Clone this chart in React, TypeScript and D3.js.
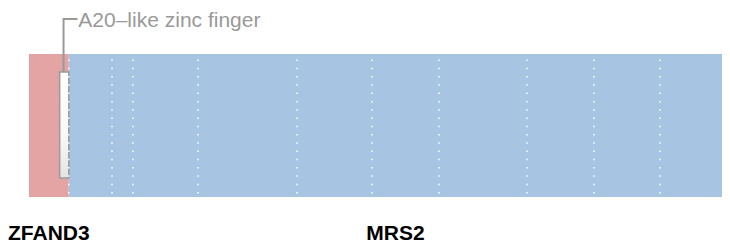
import React from "react";
import * as d3 from "d3";

const TOTAL_LEN = 470;
const segNames = ["ZFAND3", "MRS2"];
const segStarts = [0, 27];
const segEnds = [27, 470];
const segColors = ["#e5a4a4", "#a8c4e3"];
const exonBoundaries = [27, 56.3, 70.5, 114.6, 181.8, 232.6, 278.1, 337.7, 383.2, 428];
const domainNames = ["A20\u2013like zinc finger"];
const domainStarts = [20.8];
const domainEnds = [27];

const W = 730;
const H = 247;

export default function App() {
  const x = d3.scaleLinear().domain([0, TOTAL_LEN]).range([29, 722]);
  const barTop = 54;
  const barBottom = 197;
  const boxTop = 72;
  const boxBottom = 178;
  return (
    <svg
      width={W}
      height={H}
      style={{ position: "absolute", left: 0, top: 0 }}
      fontFamily="'Liberation Sans', Arial, sans-serif"
    >
      <defs>
        <linearGradient id="dg" x1="0" y1="0" x2="0" y2="1">
          <stop offset="0" stopColor="#ffffff" />
          <stop offset="0.6" stopColor="#f8f8f8" />
          <stop offset="1" stopColor="#e4e4e4" />
        </linearGradient>
      </defs>
      {segNames.map((n, i) => (
        <rect
          key={n}
          x={x(segStarts[i])}
          y={barTop}
          width={x(segEnds[i]) - x(segStarts[i])}
          height={barBottom - barTop}
          fill={segColors[i]}
        />
      ))}
      {domainNames.map((n, i) => {
        const x0 = x(domainStarts[i]);
        const x1 = x(domainEnds[i]);
        const cx = (x0 + x1) / 2 - 0.7;
        return (
          <g key={n}>
            <rect
              x={x0}
              y={boxTop}
              width={x1 - x0}
              height={boxBottom - boxTop}
              fill="url(#dg)"
              stroke="#9a9a9a"
              strokeWidth={1.5}
            />
            <path
              d={`M${cx},${boxTop} V19 H${cx + 14}`}
              fill="none"
              stroke="#9a9a9a"
              strokeWidth={2}
            />
            <text x={cx + 14.8} y={26.5} fontSize={21} fill="#999999">
              {n}
            </text>
          </g>
        );
      })}
      {exonBoundaries.map((b, i) => (
        <line
          key={i}
          x1={x(b)}
          x2={x(b)}
          y1={59.5}
          y2={barBottom}
          stroke="#ffffff"
          strokeWidth={1.5}
          strokeDasharray="1.5 6.775"
        />
      ))}
      {segNames.map((n, i) => (
        <text
          key={n}
          x={(x(segStarts[i]) + x(segEnds[i])) / 2}
          y={239.5}
          textAnchor="middle"
          fontSize={21}
          fontWeight="bold"
          fill="#000"
        >
          {n}
        </text>
      ))}
    </svg>
  );
}
